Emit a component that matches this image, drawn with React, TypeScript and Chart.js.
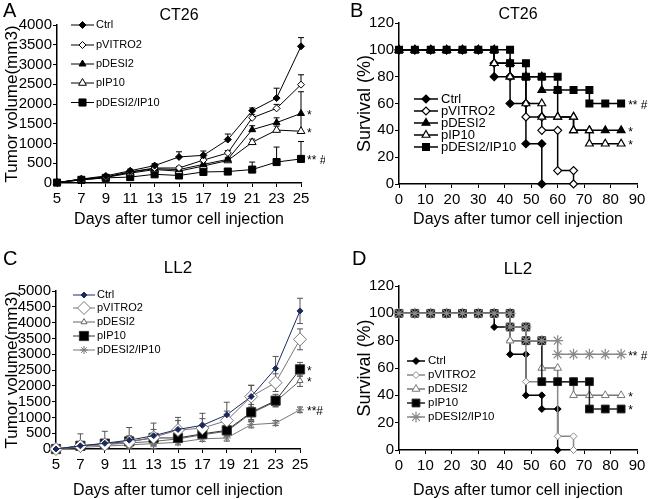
import React, { useEffect, useRef } from 'react';
import { Chart, registerables } from 'chart.js';
import { drawPoint } from 'chart.js/helpers';
Chart.register(...registerables);

const FONT = 'Arial, "Liberation Sans", Helvetica, sans-serif';

// ---------- Panel A: CT26 tumour volume ----------
const daysA = [5, 7, 9, 11, 13, 15, 17, 19, 21, 23, 25];
const yTicksA = [0, 500, 1000, 1500, 2000, 2500, 3000, 3500, 4000];
const ctrlA = [10, 100, 180, 310, 440, 660, 700, 1100, 1830, 2150, 3460];
const ctrlAErr = [0, 20, 30, 40, 50, 130, 110, 140, 70, 250, 220];
const vitroA = [10, 90, 150, 280, 380, 380, 580, 760, 1650, 1890, 2490];
const vitroAErr = [0, 20, 20, 30, 40, 40, 60, 60, 80, 100, 250];
const desiA = [10, 100, 150, 280, 360, 340, 470, 600, 1350, 1530, 1760];
const desiAErr = [0, 20, 20, 30, 40, 40, 40, 50, 100, 120, 550];
const ip10A = [10, 80, 140, 250, 340, 300, 430, 570, 1030, 1340, 1310];
const ip10AErr = [0, 20, 20, 30, 40, 40, 40, 50, 80, 100, 400];
const comboA = [10, 80, 130, 150, 220, 190, 280, 290, 340, 530, 610];
const comboAErr = [0, 10, 20, 30, 40, 40, 40, 50, 190, 380, 440];
const notesA = [
  { x: 25, y: 1760, text: '*' },
  { x: 25, y: 1310, text: '*' },
  { x: 25, y: 610, text: '** #' },
];

// ---------- Panel B: CT26 survival ----------
const xTicksSurv = [0, 10, 20, 30, 40, 50, 60, 70, 80, 90];
const yTicksSurv = [0, 20, 40, 60, 80, 100, 120];
const ctrlBDays = [0, 6, 12, 18, 24, 30, 36, 36, 42, 42, 48, 48, 54, 54];
const ctrlBSurv = [100, 100, 100, 100, 100, 100, 100, 80, 80, 60, 60, 30, 30, 0];
const vitroBDays = [0, 6, 12, 18, 24, 30, 36, 36, 42, 42, 48, 48, 54, 54, 60, 60, 66, 66];
const vitroBSurv = [100, 100, 100, 100, 100, 100, 100, 90, 90, 80, 80, 50, 50, 40, 40, 10, 10, 0];
const desiBDays = [0, 6, 12, 18, 24, 30, 36, 36, 42, 42, 48, 54, 54, 60, 60, 66, 66, 72, 78, 84];
const desiBSurv = [100, 100, 100, 100, 100, 100, 100, 90, 90, 80, 80, 80, 70, 70, 50, 50, 40, 40, 40, 40];
const ip10BDays = [0, 6, 12, 18, 24, 30, 36, 36, 42, 42, 48, 48, 54, 54, 60, 66, 66, 72, 72, 78, 84];
const ip10BSurv = [100, 100, 100, 100, 100, 100, 100, 90, 90, 80, 80, 60, 60, 50, 50, 50, 40, 40, 30, 30, 30];
const comboBDays = [0, 6, 12, 18, 24, 30, 36, 42, 42, 48, 48, 54, 60, 60, 66, 72, 72, 78, 84];
const comboBSurv = [100, 100, 100, 100, 100, 100, 100, 100, 90, 90, 80, 80, 80, 70, 70, 70, 60, 60, 60];
const notesB = [
  { x: 84, y: 60, text: '** #' },
  { x: 84, y: 40, text: '*' },
  { x: 84, y: 30, text: '*' },
];

// ---------- Panel C: LL2 tumour volume ----------
const daysC = [5, 7, 9, 11, 13, 15, 17, 19, 21, 23, 25];
const yTicksC = [0, 500, 1000, 1500, 2000, 2500, 3000, 3500, 4000, 4500, 5000];
const ctrlC = [0, 100, 180, 280, 420, 620, 750, 1080, 1660, 2550, 4370];
const ctrlCErr = [0, 380, 380, 400, 400, 380, 380, 400, 360, 380, 400];
const vitroC = [0, 90, 140, 220, 370, 600, 660, 900, 1660, 2100, 3470];
const vitroCErr = [0, 150, 150, 200, 250, 300, 300, 300, 350, 280, 330];
const desiC = [0, 90, 140, 190, 240, 320, 450, 560, 1130, 1500, 2160];
const desiCErr = [0, 80, 80, 100, 100, 120, 120, 150, 200, 150, 180];
const ip10C = [0, 100, 170, 240, 350, 350, 480, 590, 1160, 1530, 2520];
const ip10CErr = [0, 100, 100, 120, 150, 150, 150, 180, 250, 200, 220];
const comboC = [0, 50, 90, 130, 170, 210, 320, 350, 770, 820, 1240];
const comboCErr = [0, 60, 60, 80, 80, 80, 80, 100, 100, 80, 90];
const notesC = [
  { x: 25, y: 2520, text: '*' },
  { x: 25, y: 2160, text: '*' },
  { x: 25, y: 1240, text: '**#' },
];

// ---------- Panel D: LL2 survival ----------
const ctrlDDays = [0, 6, 12, 18, 24, 30, 36, 36, 42, 42, 48, 48, 54, 54, 60, 60];
const ctrlDSurv = [100, 100, 100, 100, 100, 100, 100, 90, 90, 70, 70, 40, 40, 30, 30, 0];
const vitroDDays = [0, 6, 12, 18, 24, 30, 36, 42, 42, 48, 48, 54, 60, 60, 66, 66];
const vitroDSurv = [100, 100, 100, 100, 100, 100, 100, 100, 80, 80, 50, 50, 50, 10, 10, 0];
const desiDDays = [0, 6, 12, 18, 24, 30, 36, 42, 42, 48, 54, 54, 60, 60, 66, 66, 72, 78, 84];
const desiDSurv = [100, 100, 100, 100, 100, 100, 100, 100, 80, 80, 80, 60, 60, 50, 50, 40, 40, 40, 40];
const ip10DDays = [0, 6, 12, 18, 24, 30, 36, 42, 42, 48, 48, 54, 54, 60, 66, 72, 72, 78, 84];
const ip10DSurv = [100, 100, 100, 100, 100, 100, 100, 100, 90, 90, 80, 80, 50, 50, 50, 50, 30, 30, 30];
const comboDDays = [0, 6, 12, 18, 24, 30, 36, 42, 42, 48, 48, 54, 60, 60, 66, 72, 78, 84];
const comboDSurv = [100, 100, 100, 100, 100, 100, 100, 100, 90, 90, 80, 80, 80, 70, 70, 70, 70, 70];
const notesD = [
  { x: 84, y: 70, text: '** #' },
  { x: 84, y: 40, text: '*' },
  { x: 84, y: 30, text: '*' },
];

const LABELS = ['Ctrl', 'pVITRO2', 'pDESI2', 'pIP10', 'pDESI2/IP10'];

type Series = {
  label: string; x: number[]; y: number[]; up?: number[]; down?: number[];
  color: string; fill: string; style: string; radius: number; lw: number; pbw: number;
  errColor?: string; order: number;
};
type Panel = {
  left: number; top: number; w: number; h: number;
  area: { l: number; r: number; t: number; b: number };
  xTicks: number[]; yTicks: number[];
  xTitle: string; yTitle: string; yTitleSize: number; yTitleOff: number; xTitleOff: number;
  title: string; titleSize: number; titleY: number;
  letter: string; letterX: number; letterY: number;
  legend: { x1: number; x2: number; tx: number; ys: number[]; size: number };
  notes: { x: number; y: number; text: string }[]; noteDx: number;
  series: Series[]; cap: number;
};

const XTITLE = 'Days after tumor cell injection';

const panelA: Panel = {
  left: 0, top: 0, w: 325, h: 250,
  area: { l: 57, r: 301, t: 25, b: 183 },
  xTicks: daysA, yTicks: yTicksA,
  xTitle: XTITLE, yTitle: 'Tumor volume(mm3)', yTitleSize: 17, yTitleOff: 4, xTitleOff: 22,
  title: 'CT26', titleSize: 16, titleY: 16,
  letter: 'A', letterX: 3, letterY: 1,
  legend: { x1: 71, x2: 94, tx: 96, ys: [25, 45, 64, 83, 102.5], size: 11 },
  notes: notesA, noteDx: 6, cap: 3,
  series: [
    { label: LABELS[0], x: daysA, y: ctrlA, up: ctrlAErr, color: '#000', fill: '#000', style: 'rectRot', radius: 3.5, lw: 1, pbw: 1, order: 0 },
    { label: LABELS[1], x: daysA, y: vitroA, up: vitroAErr, color: '#000', fill: '#fff', style: 'rectRot', radius: 3.5, lw: 1, pbw: 1, order: 1 },
    { label: LABELS[2], x: daysA, y: desiA, up: desiAErr, color: '#000', fill: '#000', style: 'triangle', radius: 4, lw: 1, pbw: 1, order: 2 },
    { label: LABELS[3], x: daysA, y: ip10A, up: ip10AErr, color: '#000', fill: '#fff', style: 'triangle', radius: 4.5, lw: 1, pbw: 1, order: 3 },
    { label: LABELS[4], x: daysA, y: comboA, up: comboAErr, color: '#000', fill: '#000', style: 'rect', radius: 5, lw: 1, pbw: 1, order: 4 },
  ],
};

const panelB: Panel = {
  left: 325, top: 0, w: 325, h: 250,
  area: { l: 74, r: 312, t: 23, b: 184 },
  xTicks: xTicksSurv, yTicks: yTicksSurv,
  xTitle: XTITLE, yTitle: 'Survival (%)', yTitleSize: 18, yTitleOff: 31, xTitleOff: 22,
  title: 'CT26', titleSize: 16, titleY: 15,
  letter: 'B', letterX: 25, letterY: 1,
  legend: { x1: 89, x2: 113, tx: 116, ys: [99, 111, 123, 135, 147], size: 13 },
  notes: notesB, noteDx: 7, cap: 3,
  series: [
    { label: LABELS[0], x: ctrlBDays, y: ctrlBSurv, color: '#000', fill: '#000', style: 'rectRot', radius: 4, lw: 1.5, pbw: 1.2, order: 4 },
    { label: LABELS[1], x: vitroBDays, y: vitroBSurv, color: '#000', fill: '#fff', style: 'rectRot', radius: 4, lw: 1.5, pbw: 1.2, order: 3 },
    { label: LABELS[2], x: desiBDays, y: desiBSurv, color: '#000', fill: '#000', style: 'triangle', radius: 4.5, lw: 1.5, pbw: 1.2, order: 2 },
    { label: LABELS[3], x: ip10BDays, y: ip10BSurv, color: '#000', fill: '#fff', style: 'triangle', radius: 4.5, lw: 1.5, pbw: 1.2, order: 1 },
    { label: LABELS[4], x: comboBDays, y: comboBSurv, color: '#000', fill: '#000', style: 'rect', radius: 4.8, lw: 1.5, pbw: 1.2, order: 0 },
  ],
};

const panelC: Panel = {
  left: 0, top: 250, w: 325, h: 249,
  area: { l: 56, r: 300, t: 41, b: 199 },
  xTicks: daysC, yTicks: yTicksC,
  xTitle: XTITLE, yTitle: 'Tumor volume(mm3)', yTitleSize: 17, yTitleOff: 3.5, xTitleOff: 0,
  title: 'LL2', titleSize: 17, titleY: 18,
  letter: 'C', letterX: 3, letterY: -1,
  legend: { x1: 73, x2: 95, tx: 97, ys: [45, 58, 72, 86, 100], size: 11 },
  notes: notesC, noteDx: 7, cap: 3,
  series: [
    { label: LABELS[0], x: daysC, y: ctrlC, up: ctrlCErr, down: ctrlCErr, color: '#1b2a5e', fill: '#1b2a5e', style: 'rectRot', radius: 3, lw: 1, pbw: 1, errColor: '#555', order: 0 },
    { label: LABELS[1], x: daysC, y: vitroC, up: vitroCErr, down: vitroCErr, color: '#777', fill: '#fff', style: 'rectRot', radius: 6.5, lw: 1, pbw: 1, errColor: '#555', order: 1 },
    { label: LABELS[2], x: daysC, y: desiC, up: desiCErr, down: desiCErr, color: '#666', fill: '#fff', style: 'triangle', radius: 3.5, lw: 1, pbw: 1, errColor: '#555', order: 3 },
    { label: LABELS[3], x: daysC, y: ip10C, up: ip10CErr, down: ip10CErr, color: '#333', fill: '#000', style: 'rect', radius: 6.5, lw: 1, pbw: 1, errColor: '#555', order: 2 },
    { label: LABELS[4], x: daysC, y: comboC, up: comboCErr, down: comboCErr, color: '#777', fill: '#777', style: 'star', radius: 4, lw: 1, pbw: 1, errColor: '#555', order: 4 },
  ],
};

const panelD: Panel = {
  left: 325, top: 250, w: 325, h: 249,
  area: { l: 74, r: 312, t: 36, b: 200 },
  xTicks: xTicksSurv, yTicks: yTicksSurv,
  xTitle: XTITLE, yTitle: 'Survival (%)', yTitleSize: 18, yTitleOff: 31, xTitleOff: 0,
  title: 'LL2', titleSize: 17, titleY: 19,
  letter: 'D', letterX: 27, letterY: -1,
  legend: { x1: 82, x2: 100, tx: 103, ys: [111, 125, 139, 153, 167], size: 11.5 },
  notes: notesD, noteDx: 7, cap: 3,
  series: [
    { label: LABELS[0], x: ctrlDDays, y: ctrlDSurv, color: '#000', fill: '#000', style: 'rectRot', radius: 3.5, lw: 1.5, pbw: 1, order: 4 },
    { label: LABELS[1], x: vitroDDays, y: vitroDSurv, color: '#888', fill: '#fff', style: 'rectRot', radius: 3.5, lw: 1.5, pbw: 1, order: 3 },
    { label: LABELS[2], x: desiDDays, y: desiDSurv, color: '#777', fill: '#fff', style: 'triangle', radius: 4.5, lw: 1.5, pbw: 1, order: 2 },
    { label: LABELS[3], x: ip10DDays, y: ip10DSurv, color: '#222', fill: '#000', style: 'rect', radius: 5.5, lw: 1.5, pbw: 1, order: 1 },
    { label: LABELS[4], x: comboDDays, y: comboDSurv, color: '#888', fill: '#888', style: 'star', radius: 5.5, lw: 1.5, pbw: 1.2, order: 0 },
  ],
};

const PANELS = [panelA, panelB, panelC, panelD];

function decor(p: Panel) {
  return {
    id: 'decor',
    beforeDatasetsDraw(chart: any) {
      const ctx = chart.ctx; const xs = chart.scales.x; const ys = chart.scales.y;
      ctx.save();
      p.series.forEach((s) => {
        if (!s.up) return;
        ctx.strokeStyle = s.errColor || s.color;
        ctx.lineWidth = 1;
        s.x.forEach((d, i) => {
          const u = s.up ? s.up[i] || 0 : 0;
          const dn = s.down ? s.down[i] || 0 : 0;
          if (!u && !dn) return;
          const px = xs.getPixelForValue(d);
          const top = ys.getPixelForValue(s.y[i] + u);
          const lowVal = Math.max(0, s.y[i] - dn);
          const bot = ys.getPixelForValue(lowVal);
          ctx.beginPath();
          ctx.moveTo(px, top); ctx.lineTo(px, bot);
          ctx.moveTo(px - p.cap, top); ctx.lineTo(px + p.cap, top);
          if (dn && lowVal > 0) { ctx.moveTo(px - p.cap, bot); ctx.lineTo(px + p.cap, bot); }
          ctx.stroke();
        });
      });
      ctx.restore();
    },
    afterDraw(chart: any) {
      const ctx = chart.ctx; const xs = chart.scales.x; const ys = chart.scales.y;
      const ca = chart.chartArea;
      ctx.save();
      ctx.fillStyle = '#000';
      ctx.font = `${p.titleSize}px ${FONT}`;
      ctx.textAlign = 'center'; ctx.textBaseline = 'middle';
      ctx.fillText(p.title, (ca.left + ca.right) / 2, p.titleY);
      ctx.font = `20px ${FONT}`;
      ctx.textAlign = 'left'; ctx.textBaseline = 'top';
      ctx.fillText(p.letter, p.letterX, p.letterY);
      const lg = p.legend;
      p.series.forEach((s, i) => {
        const y = lg.ys[i];
        ctx.strokeStyle = s.color; ctx.lineWidth = s.lw;
        ctx.beginPath(); ctx.moveTo(lg.x1, y); ctx.lineTo(lg.x2, y); ctx.stroke();
        ctx.fillStyle = s.fill; ctx.strokeStyle = s.color; ctx.lineWidth = s.pbw;
        drawPoint(ctx, { pointStyle: s.style as any, radius: s.radius, borderWidth: s.pbw, rotation: 0 } as any, (lg.x1 + lg.x2) / 2, y);
        ctx.fillStyle = '#000';
        ctx.font = `${lg.size}px ${FONT}`;
        ctx.textAlign = 'left'; ctx.textBaseline = 'middle';
        ctx.fillText(s.label, lg.tx, y);
      });
      ctx.fillStyle = '#000';
      ctx.font = `12px ${FONT}`;
      ctx.textAlign = 'left'; ctx.textBaseline = 'middle';
      p.notes.forEach((n) => {
        ctx.fillText(n.text, xs.getPixelForValue(n.x) + p.noteDx, ys.getPixelForValue(n.y) + 2);
      });
      ctx.restore();
    },
  };
}

function buildConfig(p: Panel): any {
  const datasets = p.series.map((s) => ({
    label: s.label,
    data: s.x.map((d, j) => ({ x: d, y: s.y[j] })),
    borderColor: s.color,
    borderWidth: s.lw,
    pointStyle: s.style,
    pointRadius: s.radius,
    pointBackgroundColor: s.fill,
    pointBorderColor: s.color,
    pointBorderWidth: s.pbw,
    fill: false,
    tension: 0,
    clip: false,
    order: s.order,
  }));
  const tickFont = { family: FONT, size: 15 };
  const plain = (v: any) => String(v);
  return {
    type: 'line',
    data: { datasets },
    options: {
      responsive: false,
      animation: false,
      events: [],
      layout: { padding: { left: 0, top: p.area.t, right: p.w - p.area.r, bottom: 0 } },
      plugins: { legend: { display: false }, title: { display: false }, tooltip: { enabled: false } },
      scales: {
        x: {
          type: 'linear',
          min: p.xTicks[0],
          max: p.xTicks[p.xTicks.length - 1],
          afterBuildTicks: (s: any) => { s.ticks = p.xTicks.map((v) => ({ value: v })); },
          afterFit: (s: any) => { s.height = p.h - p.area.b; },
          grid: { drawOnChartArea: false, drawTicks: true, tickLength: 4, color: '#000', lineWidth: 1 },
          border: { color: '#000', width: 1.5 },
          ticks: { color: '#000', font: tickFont, padding: 3, autoSkip: false, maxRotation: 0, callback: plain },
          title: { display: true, text: p.xTitle, color: '#000', font: { family: FONT, size: 16, lineHeight: 1 }, padding: { top: 0, bottom: p.xTitleOff } },
        },
        y: {
          type: 'linear',
          min: p.yTicks[0],
          max: p.yTicks[p.yTicks.length - 1],
          afterBuildTicks: (s: any) => { s.ticks = p.yTicks.map((v) => ({ value: v })); },
          afterFit: (s: any) => { s.width = p.area.l; },
          grid: { drawOnChartArea: false, drawTicks: true, tickLength: 4, color: '#000', lineWidth: 1 },
          border: { color: '#000', width: 1.5 },
          ticks: { color: '#000', font: tickFont, padding: 1, autoSkip: false, callback: plain },
          title: { display: true, text: p.yTitle, color: '#000', font: { family: FONT, size: p.yTitleSize, lineHeight: 1 }, padding: { top: p.yTitleOff, bottom: 0 } },
        },
      },
    },
    plugins: [decor(p)],
  };
}

function PanelChart({ p }: { p: Panel }) {
  const ref = useRef<HTMLCanvasElement>(null);
  useEffect(() => {
    if (!ref.current) return;
    const chart = new Chart(ref.current, buildConfig(p));
    return () => chart.destroy();
  }, [p]);
  return (
    <canvas
      ref={ref}
      width={p.w}
      height={p.h}
      style={{ position: 'absolute', left: p.left, top: p.top, width: p.w, height: p.h }}
    />
  );
}

export default function App() {
  return (
    <div style={{ position: 'absolute', left: 0, top: 0, width: 650, height: 499, background: '#fff', overflow: 'hidden' }}>
      {PANELS.map((p, i) => <PanelChart key={i} p={p} />)}
    </div>
  );
}
